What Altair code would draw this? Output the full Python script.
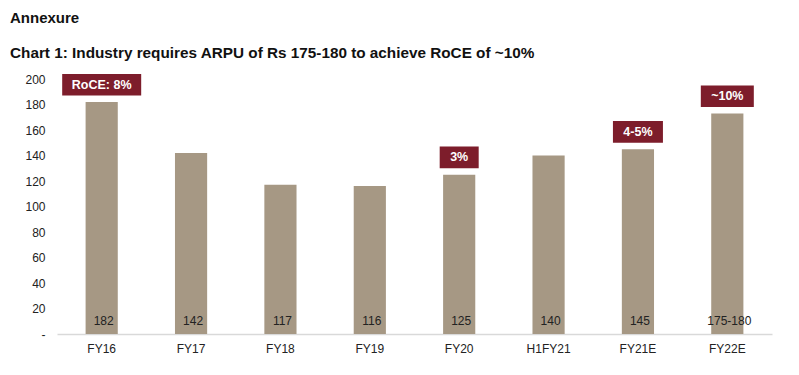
import altair as alt
import pandas as pd

categories = ["FY16", "FY17", "FY18", "FY19", "FY20", "H1FY21", "FY21E", "FY22E"]
arpu = [182, 142, 117, 116, 125, 140, 145, 173]
value_labels = ["182", "142", "117", "116", "125", "140", "145", "175-180"]
roce_labels = ["RoCE: 8%", "", "", "", "3%", "", "4-5%", "~10%"]
y_ticks = [0, 20, 40, 60, 80, 100, 120, 140, 160, 180, 200]

BAR = "#A69884"
BOX = "#7D1D2B"
FONT = "Liberation Sans"

# approximate bold 12px glyph widths for sizing the label boxes
_cw = {"R": 8.7, "o": 7.3, "C": 8.7, "E": 8.0, ":": 4.0, " ": 3.3, "%": 10.7,
       "-": 4.0, "~": 7.0}


def text_w(s):
    return sum(_cw.get(c, 6.7) for c in s)


df = pd.DataFrame({"cat": categories, "v": arpu, "lab": value_labels})
ann = pd.DataFrame({"cat": categories, "v": arpu, "t": roce_labels})
ann = ann[ann["t"] != ""].copy()
ann["y0"] = ann["v"] + 5
ann["y1"] = ann["v"] + 22
ann["ym"] = ann["v"] + 13.5
ann["w"] = ann["t"].map(lambda s: round(text_w(s) + 22))

yscale = alt.Scale(domain=[0, 200])
xs = alt.Scale(paddingInner=0.64, paddingOuter=0.32)
x_axis = alt.Axis(labelAngle=0, ticks=False, domainColor="#D9D9D9", labelPadding=9,
                  domainWidth=1.5, labelFont=FONT, labelFontSize=12, labelColor="#222")
y_axis = alt.Axis(values=y_ticks, grid=False, domain=False, ticks=False, labelPadding=12,
                  labelOverlap=False, labelFont=FONT, labelFontSize=12, labelColor="#222",
                  labelExpr="datum.value == 0 ? '-' : datum.label")


def X():
    return alt.X("cat:N", sort=categories, title=None, scale=xs, axis=x_axis)


def Y(field):
    return alt.Y(field, scale=yscale, title=None, axis=y_axis)


bars = alt.Chart(df).mark_bar(color=BAR).encode(x=X(), y=Y("v:Q"))

vals = alt.Chart(df).mark_text(fontSize=12, font=FONT, color="#222", dy=-13, dx=2).encode(
    x=X(), y=Y("zero:Q"), text="lab:N",
).transform_calculate(zero="0")

boxes = alt.Chart(ann).mark_bar(color=BOX).encode(
    x=X(), y=Y("y0:Q"), y2="y1:Q",
    size=alt.Size("w:Q", scale=None, legend=None),
)

box_text = alt.Chart(ann).mark_text(fontSize=12.5, font=FONT, fontWeight="bold",
                                    color="white", baseline="middle").encode(
    x=X(), y=Y("ym:Q"), text="t:N",
)

chart = alt.layer(bars, vals, boxes, box_text).properties(
    width=715, height=255,
    autosize=alt.AutoSizeParams(type="none"),
    padding={"left": 49, "top": 71, "right": 19, "bottom": 33},
    title=alt.TitleParams(
        text="Annexure",
        subtitle="Chart 1: Industry requires ARPU of Rs 175-180 to achieve RoCE of ~10%",
        anchor="start", frame="group", dx=-47, offset=12,
        font=FONT, fontSize=15, fontWeight="bold", color="#111",
        subtitleFont=FONT, subtitleFontSize=15.3, subtitleFontWeight="bold",
        subtitleColor="#111", subtitlePadding=20,
    ),
).configure_view(stroke=None)

chart.save("out.html", embed_options={"renderer": "svg", "actions": False})
